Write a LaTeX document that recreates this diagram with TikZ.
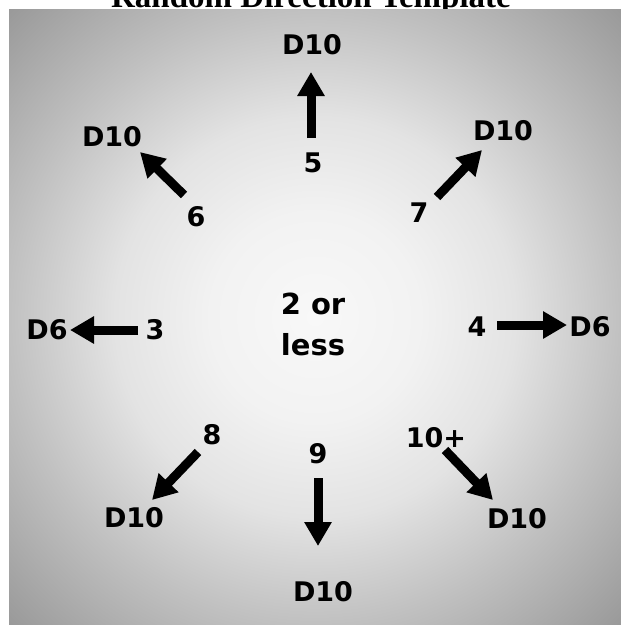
\documentclass[tikz,border=0pt]{standalone}
\usepackage{fontspec}
\setmainfont{Liberation Serif}
\newfontfamily\lblfont{DejaVu Sans}
\usetikzlibrary{arrows.meta}
\definecolor{vc0}{HTML}{F8F8F8}
\definecolor{vc1}{HTML}{F2F2F2}
\definecolor{vc2}{HTML}{E3E3E3}
\definecolor{vc3}{HTML}{C0C0C0}
\definecolor{vc4}{HTML}{999999}
\pgfdeclareradialshading{vignette}{\pgfpoint{0bp}{0bp}}{color(0bp)=(vc0); color(6bp)=(vc1); color(11.5bp)=(vc2); color(17.7bp)=(vc3); color(25bp)=(vc4); color(50bp)=(vc4)}
\begin{document}
\begin{tikzpicture}[x=1pt,y=-1pt,
  lbl/.style={font=\lblfont\bfseries\fontsize{27}{41}\selectfont, inner sep=0pt, text=black},
  arr/.style={line width=9pt, -{Triangle[width=26pt,length=24pt]}}]
\useasboundingbox (0,0) rectangle (621,625);
\node[font=\bfseries\fontsize{33}{40}\selectfont, anchor=base, inner sep=0pt] (title) at (311,7) {Random Direction Template};
\begin{scope}
\clip (9,9) rectangle (621,625);
\shade[shading=vignette] (315,317) circle[radius=435];
\end{scope}
% center
\node[lbl, align=center, font=\lblfont\bfseries\fontsize{29}{41}\selectfont] (c) at (313,324) {2 or\\less};
% labels
\node[lbl] (n5) at (313,163) {5};
\node[lbl] (d5) at (312,45) {D10};
\node[lbl] (n6) at (196,217) {6};
\node[lbl] (d6) at (112,137) {D10};
\node[lbl] (n7) at (419,213) {7};
\node[lbl] (d7) at (503,131) {D10};
\node[lbl] (n3) at (155,330) {3};
\node[lbl] (d3) at (47,330) {D6};
\node[lbl] (n4) at (477,327) {4};
\node[lbl] (d4) at (590,327) {D6};
\node[lbl] (n8) at (212,435) {8};
\node[lbl] (d8) at (134,518) {D10};
\node[lbl] (n9) at (318,454) {9};
\node[lbl] (d9) at (323,592) {D10};
\node[lbl] (n10) at (436,438) {10+};
\node[lbl] (d10) at (517,519) {D10};
% arrow ends
\coordinate (t5) at (311,138); \coordinate (h5) at (311,72);
\coordinate (t6) at (184,195); \coordinate (h6) at (140,152);
\coordinate (t7) at (437,197); \coordinate (h7) at (482,150);
\coordinate (t3) at (138,330); \coordinate (h3) at (70,330);
\coordinate (t4) at (497,325); \coordinate (h4) at (567,325);
\coordinate (t8) at (198,452); \coordinate (h8) at (152,500);
\coordinate (t9) at (318,478); \coordinate (h9) at (318,546);
\coordinate (t10) at (445,450); \coordinate (h10) at (493,500);
\foreach \k in {5,6,7,3,4,8,9,10}{\draw[arr] (t\k) -- (h\k);}
\end{tikzpicture}
\end{document}
